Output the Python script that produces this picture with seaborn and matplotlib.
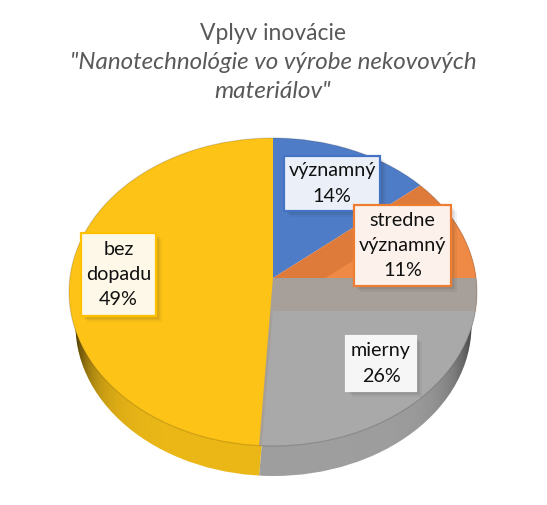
import numpy as np
import matplotlib
matplotlib.use("Agg")
import matplotlib.pyplot as plt
import matplotlib.patheffects as pe
from matplotlib.patches import Ellipse, Rectangle
import seaborn as sns

# Data
categories = ["významný", "stredne\nvýznamný", "mierny", "bez\ndopadu"]
percents = [14, 11, 26, 49]

# Colours per slice
face_colors = ["#4F7CC6", "#EE8A45", "#A9A9A9", "#FEC317"]
wall_colors = ["#4F7CC6", "#DF7B3A", "#A79F99", "#FEC317"]
rim_colors = ["#4F7CC6", "#EE8A45", "#A3A3A3", "#F2BD18"]
box_fills = ["#EBF0F8", "#FCF2EB", "#F6F6F6", "#FEF8E8"]
box_edges = ["#4472C4", "#ED7D31", "#F6F6F6", "#FFC000"]

# Label boxes in pixels: left, top, right, bottom
boxes = [(284, 156, 380, 211), (354, 205, 451, 286), (346, 336, 416, 391), (81, 233, 156, 316)]

W, H = 547, 505
SQUASH = 0.76  # tilt of the pie

sns.set_theme(style="white")
plt.rcParams["font.family"] = ["Lato", "DejaVu Sans"]

fig = plt.figure(figsize=(W / 100, H / 100), dpi=100, facecolor="white")
ax = fig.add_axes([0, 0, 1, 1])


def py(y):
    # picture pixel row -> data y
    return (H - y) / SQUASH


def draw_pie(apex_y, colors, clip, zorder, which=(0, 1, 2, 3)):
    wedges, _ = ax.pie(percents, colors=colors, center=(273, py(apex_y)), radius=330,
                       startangle=90, counterclock=False, frame=False,
                       wedgeprops={"linewidth": 0})
    for i, w in enumerate(wedges):
        w.set_zorder(zorder[i] if isinstance(zorder, (list, tuple)) else zorder)
        w.set_clip_path(clip)
        w.set_clip_on(True)
        w.set_visible(i in which)
    return wedges


def make_ellipse(cx, cy, rx, ry, **kw):
    e = Ellipse((cx, py(cy)), 2 * rx, 2 * ry / SQUASH, transform=ax.transData, **kw)
    return e


top = make_ellipse(273, 292, 204, 154, facecolor="none", edgecolor="none")
bottom = make_ellipse(273.5, 325, 198, 151, facecolor="none", edgecolor="none")
ax.add_patch(top)
ax.add_patch(bottom)

# Side of the pie
draw_pie(308, rim_colors, bottom, 1, which=(2, 3))

# Rim shading, dark at both far ends
xs = np.arange(W)
shade = 0.66 * np.exp(-(xs - 75) / 18.0) + 0.55 * np.exp((xs - 472) / 20.0) + 0.03
shade = np.clip(shade, 0, 0.75)
rgba = np.zeros((1, W, 4))
rgba[0, :, 3] = shade
img = ax.imshow(rgba, extent=(0, W, py(H), py(0)), aspect="auto", zorder=2, interpolation="bilinear")
img.set_clip_path(bottom)

# Top face: the cut walls show through behind the orange and gray slices
draw_pie(278, wall_colors, top, [3, 4, 6, 3], which=(0, 1, 2, 3))
draw_pie(311, face_colors, top, [0, 5, 7, 0], which=(1, 2))

outline = make_ellipse(273, 292, 204, 154, facecolor="none", edgecolor=(0, 0, 0, 0.14),
                       linewidth=0.9, zorder=8)
ax.add_patch(outline)

# Soft shadow under the label boxes
soft_shadow = [pe.SimplePatchShadow(offset=(d, -d), shadow_rgbFace="k", alpha=0.05) for d in (4, 3, 2, 1)]

# Data labels
for cat, pct, box, fc, ec in zip(categories, percents, boxes, box_fills, box_edges):
    l, t, r, b = box
    rect = Rectangle((l, py(b)), r - l, (b - t) / SQUASH, facecolor=fc, edgecolor=ec, linewidth=1.6, zorder=10,
                     path_effects=soft_shadow + [pe.Normal()])
    ax.add_patch(rect)
    ax.text((l + r) / 2, py((t + b) / 2), f"{cat}\n{pct}%", ha="center", va="center", fontsize=14.2,
            color="#111111", linespacing=1.6, zorder=11)

# Title
ax.text(273, py(33), "Vplyv inovácie", ha="center", va="center", fontsize=16.5, color="#595959")
ax.text(273, py(62), "\"Nanotechnológie vo výrobe nekovových", ha="center", va="center", fontsize=17.4,
        color="#595959", style="italic")
ax.text(273, py(91), "materiálov\"", ha="center", va="center", fontsize=17.6, color="#595959", style="italic")

ax.set_xlim(0, W)
ax.set_ylim(py(H), py(0))
ax.set_aspect("auto")
ax.axis("off")

fig.savefig("out.png", dpi=100, facecolor="white")
plt.close(fig)
